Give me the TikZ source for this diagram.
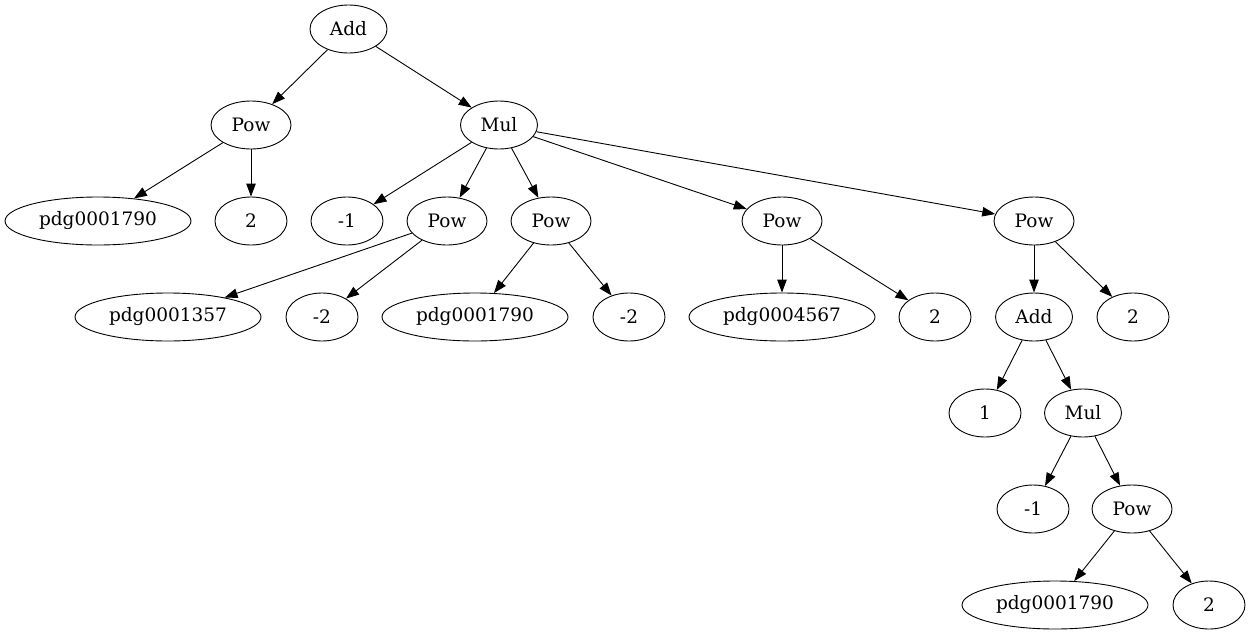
\documentclass[tikz,border=0pt]{standalone}
\usepackage{fontspec}
\setmainfont{DejaVu Serif}
\usetikzlibrary{shapes.geometric,positioning,arrows.meta}

\tikzset{
  term/.style={draw, ellipse, inner sep=0pt, minimum height=48pt, line width=0.9pt,
               font=\fontsize{18.5}{20}\selectfont},
  op/.style={term, minimum width=77pt},
  pw/.style={term, minimum width=80pt},
  num/.style={term, minimum width=72pt},
  sym/.style={term, minimum width=186pt},
  link/.style={line width=0.9pt, -{Triangle[length=13pt,width=9.5pt]}}
}

\begin{document}
\begin{tikzpicture}[x=1pt, y=-1pt, on grid]
          \useasboundingbox (0,0) rectangle (1250,635);
          \node[op] (add) at (348.5,29) {Add};
          \node[pw, below left=96pt and 97.5pt of add] (pow1) {Pow};
          \node[op, right=248pt of pow1] (mul1) {Mul};
          % third row
          \node[sym, below left=96pt and 153pt of pow1] (pdgA) {pdg0001790};
          \node[num, below=96pt of pow1] (twoA) {2};
          \node[num, right=96pt of twoA] (negA) {-1};
          \node[pw, right=100pt of negA] (pow2) {Pow};
          \node[pw, right=104pt of pow2] (pow3) {Pow};
          \node[pw, right=231pt of pow3] (pow4) {Pow};
          \node[pw, right=252pt of pow4] (pow5) {Pow};
          % fourth row
          \node[sym, below left=96pt and 279pt of pow2] (pdgB) {pdg0001357};
          \node[num, right=154pt of pdgB] (negB) {-2};
          \node[sym, right=153pt of negB] (pdgC) {pdg0001790};
          \node[num, right=154pt of pdgC] (negC) {-2};
          \node[sym, below=96pt of pow4] (pdgD) {pdg0004567};
          \node[num, right=153pt of pdgD] (twoB) {2};
          \node[op, below=96pt of pow5] (add2) {Add};
          \node[num, right=99pt of add2] (twoC) {2};
          % lower rows
          \node[num, below left=96pt and 49pt of add2] (one) {1};
          \node[op, right=98pt of one] (mul2) {Mul};
          \node[num, below left=96pt and 50pt of mul2] (negD) {-1};
          \node[pw, right=99pt of negD] (pow6) {Pow};
          \node[sym, below left=96pt and 77pt of pow6] (pdgE) {pdg0001790};
          \node[num, right=154pt of pdgE] (twoD) {2};
          \draw[link]
              (add) edge (pow1)
              (add) edge (mul1)
              (pow1) edge (pdgA)
              (pow1) edge (twoA)
              (mul1) edge (negA)
              (mul1) edge (pow2)
              (mul1) edge (pow3)
              (mul1) edge (pow4)
              (mul1) edge (pow5)
              (pow2) edge (pdgB)
              (pow2) edge (negB)
              (pow3) edge (pdgC)
              (pow3) edge (negC)
              (pow4) edge (pdgD)
              (pow4) edge (twoB)
              (pow5) edge (add2)
              (pow5) edge (twoC)
              (add2) edge (one)
              (add2) edge (mul2)
              (mul2) edge (negD)
              (mul2) edge (pow6)
              (pow6) edge (pdgE)
              (pow6) edge (twoD);
       \end{tikzpicture}
\end{document}
